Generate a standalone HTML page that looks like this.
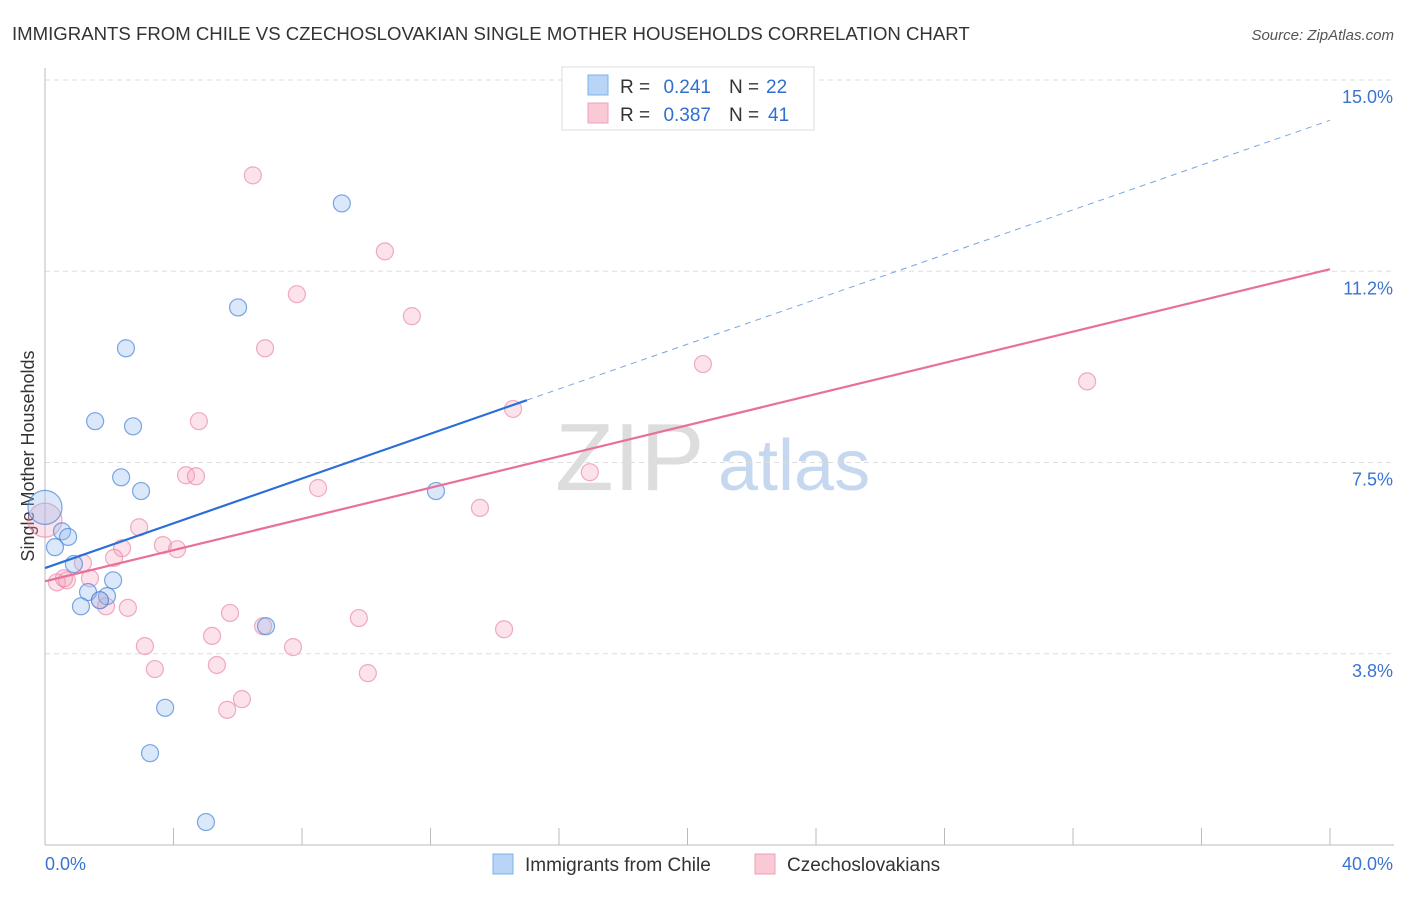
<!DOCTYPE html>
<html><head><meta charset="utf-8"><style>
body{margin:0;background:#fff;font-family:"Liberation Sans",sans-serif;}
svg text{font-family:"Liberation Sans",sans-serif;}
</style></head><body>
<svg width="1406" height="892" id="c">
<text x="12" y="40" font-size="18.6" fill="#333">IMMIGRANTS FROM CHILE VS CZECHOSLOVAKIAN SINGLE MOTHER HOUSEHOLDS CORRELATION CHART</text>
<text x="1394" y="40" font-size="15" fill="#555" font-style="italic" text-anchor="end">Source: ZipAtlas.com</text>
<text x="34" y="456" font-size="18" fill="#333" text-anchor="middle" transform="rotate(-90 34 456)">Single Mother Households</text>
<text x="555" y="490" font-size="96" fill="#ddd" font-family="Liberation Serif">ZIP</text>
<text x="718" y="490" font-size="72" fill="#c5d8ef">atlas</text>
<g id="grid"></g><g id="marks"></g>
<g>
<rect x="562" y="67" width="252" height="63" fill="#fff" stroke="#ddd"/>
<rect x="588" y="75" width="20" height="20" fill="#b8d4f7" stroke="#7fb0ea"/>
<text x="620" y="93" font-size="19" fill="#333">R =</text>
<text x="711" y="93" font-size="19" fill="#2f6fd0" text-anchor="end">0.241</text>
<text x="729" y="93" font-size="19" fill="#333">N =</text>
<text x="766" y="93" font-size="19" fill="#2f6fd0">22</text>
<rect x="588" y="103" width="20" height="20" fill="#f9c9d6" stroke="#f0a0b8"/>
<text x="620" y="121" font-size="19" fill="#333">R =</text>
<text x="711" y="121" font-size="19" fill="#2f6fd0" text-anchor="end">0.387</text>
<text x="729" y="121" font-size="19" fill="#333">N =</text>
<text x="768" y="121" font-size="19" fill="#2f6fd0">41</text>
</g>
<g>
<rect x="493" y="854" width="20" height="20" fill="#b8d4f7" stroke="#7fb0ea"/>
<text x="525" y="871" font-size="19" fill="#333">Immigrants from Chile</text>
<rect x="755" y="854" width="20" height="20" fill="#f9c9d6" stroke="#f0a0b8"/>
<text x="787" y="871" font-size="19" fill="#333">Czechoslovakians</text>
</g>
</svg>
<script>
const blueX=[0,0.53,0.72,0.31,0.90,2.12,1.34,1.93,1.71,1.12,1.56,2.74,2.52,2.37,2.99,6.01,9.24,6.88,12.17,3.74,3.27,5.01];
const blueY=[6.62,6.15,6.04,5.84,5.51,5.19,4.96,4.88,4.80,4.68,8.31,8.21,9.74,7.21,6.94,10.54,12.58,4.29,6.94,2.69,1.80,0.45];
const pinkX=[0,6.47,10.58,7.84,11.42,6.85,20.48,32.44,14.57,4.79,4.39,4.70,8.50,16.96,13.54,2.93,3.67,4.11,2.40,2.15,1.18,0.37,0.68,1.40,1.71,1.90,2.58,5.76,9.77,6.79,14.29,5.20,3.11,7.72,5.35,3.42,10.05,6.13,5.67,0.59];
const pinkY=[6.37,13.13,11.64,10.80,10.37,9.74,9.43,9.09,8.55,8.31,7.25,7.23,7.00,7.31,6.61,6.23,5.88,5.80,5.82,5.63,5.53,5.15,5.19,5.23,4.80,4.68,4.65,4.55,4.45,4.29,4.23,4.10,3.90,3.88,3.53,3.45,3.37,2.86,2.65,5.23];
const yTicks=[3.75,7.5,11.25,15];
const yTickLabels=["3.8%","7.5%","11.2%","15.0%"];
const blueTrend=[5.43,14.21];
const pinkTrend=[5.17,11.29];
const xs=v=>45+v/40*1285, ys=v=>845-v/15*765;
const NS="http://www.w3.org/2000/svg";
const grid=document.getElementById('grid'), marks=document.getElementById('marks');
function mk(p,t,a){const e=document.createElementNS(NS,t);for(const k in a)e.setAttribute(k,a[k]);p.appendChild(e);return e;}
yTicks.forEach((t,i)=>{
 const l=mk(grid,'line',{x1:45,x2:1394,y1:ys(t),y2:ys(t),stroke:'#ddd','stroke-dasharray':'5,4'});
 
 
 const tx=mk(grid,'text',{x:1393,y:ys(t)+23,'font-size':18,fill:'#3a74d0','text-anchor':'end'});
 tx.textContent=yTickLabels[i];
 
 
});
const ax=mk(grid,'line',{x1:45,x2:1394,y1:845,y2:845,stroke:'#bbb'});


const ay=mk(grid,'line',{x1:45,x2:45,y1:68,y2:845,stroke:'#bbb'});


for(let i=1;i<=10;i++){const t=mk(grid,'line',{x1:xs(i*4),x2:xs(i*4),y1:828,y2:845,stroke:'#bbb'});
 
 }
[["0.0%",45,'start'],["40.0%",1393,'end']].forEach(d=>{const t=mk(grid,'text',{x:d[1],y:870,'font-size':18,fill:'#3a74d0','text-anchor':d[2]});t.textContent=d[0];
 
 });
function pts(X,Y,fill,stroke,name){X.forEach((x,i)=>{const c=mk(marks,'circle',{cx:xs(x),cy:ys(Y[i]),r:i===0?17:8.5,fill:fill,stroke:stroke,'stroke-width':1.2});
 
 });}
pts(pinkX,pinkY,'rgba(244,160,185,0.3)','rgba(232,130,160,0.65)','czech-point');
pts(blueX,blueY,'rgba(150,190,240,0.35)','rgba(70,130,215,0.7)','chile-point');
const pl=mk(marks,'line',{x1:xs(0),y1:ys(pinkTrend[0]),x2:xs(40),y2:ys(pinkTrend[1]),stroke:'#e8709a','stroke-width':2.2});


const by=x=>blueTrend[0]+(blueTrend[1]-blueTrend[0])*x/40;
const bl=mk(marks,'line',{x1:xs(0),y1:ys(by(0)),x2:xs(15),y2:ys(by(15)),stroke:'#2a6fd6','stroke-width':2.2});


const bd=mk(marks,'line',{x1:xs(15),y1:ys(by(15)),x2:xs(40),y2:ys(by(40)),stroke:'#7aa5e0','stroke-width':1,'stroke-dasharray':'6,5'});


</script>
</body></html>
